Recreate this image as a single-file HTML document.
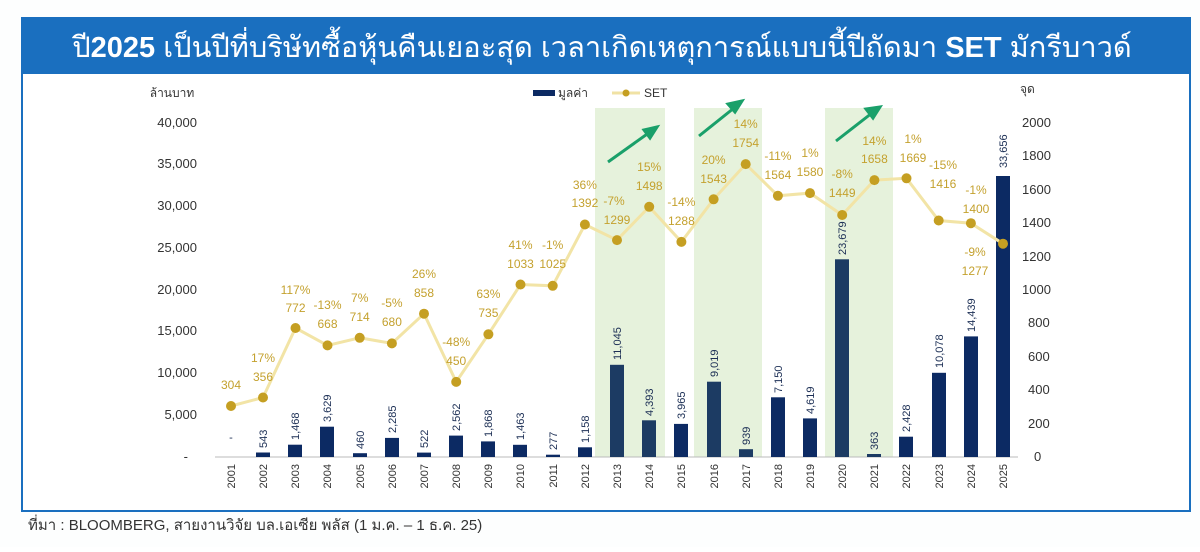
<!DOCTYPE html>
<html><head><meta charset="utf-8"><style>
body{margin:0;background:#fff;width:1200px;height:547px;overflow:hidden;font-family:"Liberation Sans","Noto Sans CJK SC",sans-serif}
</style></head><body>
<svg width="1200" height="547" xmlns="http://www.w3.org/2000/svg" font-family="Liberation Sans, Noto Sans CJK SC, sans-serif">
<rect x="0" y="0" width="1200" height="547" fill="#fdfefe"/>
<rect x="22" y="18" width="1168" height="493" fill="#fff" stroke="#1a6fbf" stroke-width="2"/>
<rect x="22" y="18" width="1168" height="56" fill="#1a6fbf"/>
<text x="602" y="57" fill="#fff" font-size="29" text-anchor="middle">ปี<tspan font-weight="bold">2025</tspan> เป็นปีที่บริษัทซื้อหุ้นคืนเยอะสุด เวลาเกิดเหตุการณ์แบบนี้ปีถัดมา <tspan font-weight="bold">SET</tspan> มักรีบาวด์</text>
<g fill="#e6f2dc"><rect x="595" y="108" width="70" height="349"/><rect x="694" y="108" width="68" height="349"/><rect x="825" y="108" width="68" height="349"/></g>
<g stroke="#1aa06a" stroke-width="3" fill="#1aa06a">
<line x1="608" y1="162" x2="650" y2="132"/><polygon points="657,127 644,130 650,138"/>
<line x1="699" y1="136" x2="734" y2="108"/><polygon points="742,101 728,104 735,112"/>
<line x1="836" y1="141" x2="872" y2="113"/><polygon points="880,107 866,109 873,118"/>
</g>
<g font-size="13" fill="#333" text-anchor="end">
<text x="197" y="127">40,000</text><text x="197" y="168">35,000</text><text x="197" y="210">30,000</text><text x="197" y="252">25,000</text><text x="197" y="294">20,000</text><text x="197" y="335">15,000</text><text x="197" y="377">10,000</text><text x="197" y="419">5,000</text><text x="188" y="461">-</text>
</g>
<text x="172" y="97" font-size="12" fill="#333" text-anchor="middle">ล้านบาท</text>
<g font-size="13" fill="#333">
<text x="1022" y="127">2000</text><text x="1022" y="160">1800</text><text x="1022" y="194">1600</text><text x="1022" y="227">1400</text><text x="1022" y="261">1200</text><text x="1022" y="294">1000</text><text x="1028" y="327">800</text><text x="1028" y="361">600</text><text x="1028" y="394">400</text><text x="1028" y="428">200</text><text x="1034" y="461">0</text>
</g>
<text x="1020" y="93" font-size="12" fill="#333">จุด</text>
<rect x="533" y="90" width="22" height="6" fill="#0c2a63"/><text x="558" y="97" font-size="12" fill="#333">มูลค่า</text>
<line x1="612" y1="93" x2="640" y2="93" stroke="#f0e2a4" stroke-width="3"/><circle cx="626" cy="93" r="3.5" fill="#c59f22"/><text x="644" y="97" font-size="12" fill="#333">SET</text>
<line x1="215" y1="457" x2="1018" y2="457" stroke="#bbb" stroke-width="1"/>
<g fill="#0c2a63">
<rect x="256" y="452.5" width="14" height="4.5"/><rect x="288" y="444.7" width="14" height="12.3"/><rect x="320" y="426.7" width="14" height="30.3"/><rect x="353" y="453.2" width="14" height="3.8"/><rect x="385" y="437.9" width="14" height="19.1"/><rect x="417" y="452.6" width="14" height="4.4"/><rect x="449" y="435.6" width="14" height="21.4"/><rect x="481" y="441.4" width="14" height="15.6"/><rect x="513" y="444.8" width="14" height="12.2"/><rect x="546" y="454.7" width="14" height="2.3"/><rect x="578" y="447.3" width="14" height="9.7"/>
<rect x="610" y="364.8" width="14" height="92.2" fill="#1c3b63"/><rect x="642" y="420.3" width="14" height="36.7" fill="#1c3b63"/><rect x="674" y="423.9" width="14" height="33.1"/><rect x="707" y="381.7" width="14" height="75.3" fill="#1c3b63"/><rect x="739" y="449.2" width="14" height="7.8" fill="#1c3b63"/><rect x="771" y="397.3" width="14" height="59.7"/><rect x="803" y="418.4" width="14" height="38.6"/><rect x="835" y="259.3" width="14" height="197.7" fill="#1c3b63"/><rect x="867" y="454" width="14" height="3" fill="#1c3b63"/><rect x="899" y="436.7" width="14" height="20.3"/><rect x="932" y="372.8" width="14" height="84.2"/><rect x="964" y="336.4" width="14" height="120.6"/><rect x="996" y="176" width="14" height="281"/>
</g>
<g font-size="11" fill="#1c2f55">
<text x="231" y="441" text-anchor="middle">-</text>
<text transform="translate(267,448) rotate(-90)">543</text><text transform="translate(299,440) rotate(-90)">1,468</text><text transform="translate(331,422) rotate(-90)">3,629</text><text transform="translate(364,449) rotate(-90)">460</text><text transform="translate(396,433) rotate(-90)">2,285</text><text transform="translate(428,448) rotate(-90)">522</text><text transform="translate(460,431) rotate(-90)">2,562</text><text transform="translate(492,437) rotate(-90)">1,868</text><text transform="translate(524,440) rotate(-90)">1,463</text><text transform="translate(557,450) rotate(-90)">277</text><text transform="translate(589,443) rotate(-90)">1,158</text><text transform="translate(621,360) rotate(-90)">11,045</text><text transform="translate(653,416) rotate(-90)">4,393</text><text transform="translate(685,419) rotate(-90)">3,965</text><text transform="translate(718,377) rotate(-90)">9,019</text><text transform="translate(750,445) rotate(-90)">939</text><text transform="translate(782,393) rotate(-90)">7,150</text><text transform="translate(814,414) rotate(-90)">4,619</text><text transform="translate(846,255) rotate(-90)">23,679</text><text transform="translate(878,450) rotate(-90)">363</text><text transform="translate(910,432) rotate(-90)">2,428</text><text transform="translate(943,368) rotate(-90)">10,078</text><text transform="translate(975,332) rotate(-90)">14,439</text><text transform="translate(1007,168) rotate(-90)">33,656</text>
</g>
<g font-size="11" fill="#333" text-anchor="end">
<text transform="translate(235,464) rotate(-90)">2001</text><text transform="translate(267,464) rotate(-90)">2002</text><text transform="translate(299,464) rotate(-90)">2003</text><text transform="translate(331,464) rotate(-90)">2004</text><text transform="translate(364,464) rotate(-90)">2005</text><text transform="translate(396,464) rotate(-90)">2006</text><text transform="translate(428,464) rotate(-90)">2007</text><text transform="translate(460,464) rotate(-90)">2008</text><text transform="translate(492,464) rotate(-90)">2009</text><text transform="translate(524,464) rotate(-90)">2010</text><text transform="translate(557,464) rotate(-90)">2011</text><text transform="translate(589,464) rotate(-90)">2012</text><text transform="translate(621,464) rotate(-90)">2013</text><text transform="translate(653,464) rotate(-90)">2014</text><text transform="translate(685,464) rotate(-90)">2015</text><text transform="translate(718,464) rotate(-90)">2016</text><text transform="translate(750,464) rotate(-90)">2017</text><text transform="translate(782,464) rotate(-90)">2018</text><text transform="translate(814,464) rotate(-90)">2019</text><text transform="translate(846,464) rotate(-90)">2020</text><text transform="translate(878,464) rotate(-90)">2021</text><text transform="translate(910,464) rotate(-90)">2022</text><text transform="translate(943,464) rotate(-90)">2023</text><text transform="translate(975,464) rotate(-90)">2024</text><text transform="translate(1007,464) rotate(-90)">2025</text>
</g>
<polyline fill="none" stroke="#f2e4a6" stroke-width="3" points="231,406 263,397.5 295.5,328 327.5,345.4 359.7,337.8 391.9,343.4 424,313.7 456.2,381.9 488.4,334.3 520.5,284.5 552.7,285.8 584.9,224.5 617,240.1 649.2,206.8 681.4,241.9 713.6,199.3 745.7,164.1 777.9,195.8 810,193.1 842.2,215 874.4,180.1 906.5,178.3 938.7,220.5 970.9,223.2 1003,243.7"/>
<g fill="#c59f22">
<circle cx="231" cy="406" r="5"/><circle cx="263" cy="397.5" r="5"/><circle cx="295.5" cy="328" r="5"/><circle cx="327.5" cy="345.4" r="5"/><circle cx="359.7" cy="337.8" r="5"/><circle cx="391.9" cy="343.4" r="5"/><circle cx="424" cy="313.7" r="5"/><circle cx="456.2" cy="381.9" r="5"/><circle cx="488.4" cy="334.3" r="5"/><circle cx="520.5" cy="284.5" r="5"/><circle cx="552.7" cy="285.8" r="5"/><circle cx="584.9" cy="224.5" r="5"/><circle cx="617" cy="240.1" r="5"/><circle cx="649.2" cy="206.8" r="5"/><circle cx="681.4" cy="241.9" r="5"/><circle cx="713.6" cy="199.3" r="5"/><circle cx="745.7" cy="164.1" r="5"/><circle cx="777.9" cy="195.8" r="5"/><circle cx="810" cy="193.1" r="5"/><circle cx="842.2" cy="215" r="5"/><circle cx="874.4" cy="180.1" r="5"/><circle cx="906.5" cy="178.3" r="5"/><circle cx="938.7" cy="220.5" r="5"/><circle cx="970.9" cy="223.2" r="5"/><circle cx="1003" cy="243.7" r="5"/>
</g>
<g font-size="12" fill="#c4a12e" text-anchor="middle">
<text x="231" y="389">304</text>
<text x="263" y="362">17%</text><text x="263" y="381">356</text>
<text x="295.5" y="294">117%</text><text x="295.5" y="312">772</text>
<text x="327.5" y="309">-13%</text><text x="327.5" y="328">668</text>
<text x="359.7" y="302">7%</text><text x="359.7" y="321">714</text>
<text x="391.9" y="307">-5%</text><text x="391.9" y="326">680</text>
<text x="424" y="278">26%</text><text x="424" y="297">858</text>
<text x="456.2" y="346">-48%</text><text x="456.2" y="365">450</text>
<text x="488.4" y="298">63%</text><text x="488.4" y="317">735</text>
<text x="520.5" y="249">41%</text><text x="520.5" y="268">1033</text>
<text x="552.7" y="249">-1%</text><text x="552.7" y="268">1025</text>
<text x="584.9" y="189">36%</text><text x="584.9" y="207">1392</text>
<text x="614" y="205">-7%</text><text x="617" y="224">1299</text>
<text x="649.2" y="171">15%</text><text x="649.2" y="190">1498</text>
<text x="681.4" y="206">-14%</text><text x="681.4" y="225">1288</text>
<text x="713.6" y="164">20%</text><text x="713.6" y="183">1543</text>
<text x="745.7" y="128">14%</text><text x="745.7" y="147">1754</text>
<text x="777.9" y="160">-11%</text><text x="777.9" y="179">1564</text>
<text x="810" y="157">1%</text><text x="810" y="176">1580</text>
<text x="842.2" y="178">-8%</text><text x="842.2" y="197">1449</text>
<text x="874.4" y="145">14%</text><text x="874.4" y="163">1658</text>
<text x="913" y="143">1%</text><text x="913" y="162">1669</text>
<text x="943" y="169">-15%</text><text x="943" y="188">1416</text>
<text x="976" y="194">-1%</text><text x="976" y="213">1400</text>
<text x="975" y="256">-9%</text><text x="975" y="275">1277</text>
</g>
<text x="28" y="530" font-size="15" fill="#333">ที่มา : BLOOMBERG, สายงานวิจัย บล.เอเซีย พลัส (1 ม.ค. – 1 ธ.ค. 25)</text>
</svg>
</body></html>
